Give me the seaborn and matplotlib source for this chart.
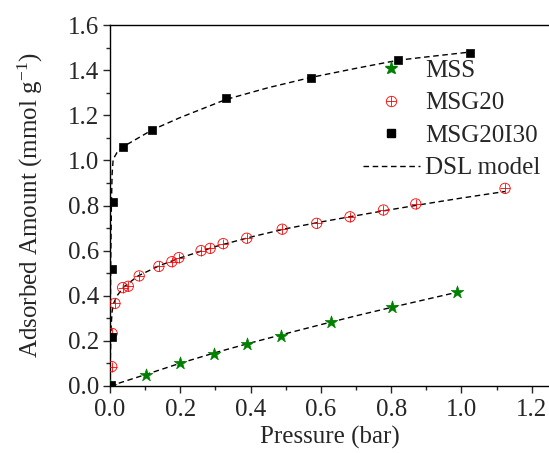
import numpy as np
import pandas as pd
import matplotlib
matplotlib.use("Agg")
import matplotlib.pyplot as plt
import seaborn as sns
from matplotlib.ticker import MultipleLocator, FormatStrFormatter
from matplotlib.legend_handler import HandlerTuple
from matplotlib.lines import Line2D

# ---- data ----
mss_p = [0.000, 0.102, 0.199, 0.297, 0.391, 0.487, 0.629, 0.802, 0.988]
mss_q = [0.000, 0.048, 0.100, 0.142, 0.186, 0.223, 0.282, 0.349, 0.418]

msg20_p = [0.005, 0.006, 0.014, 0.036, 0.052, 0.083, 0.139, 0.176, 0.196, 0.259,
           0.285, 0.322, 0.389, 0.490, 0.588, 0.683, 0.778, 0.870, 1.124]
msg20_q = [0.086, 0.233, 0.366, 0.436, 0.442, 0.488, 0.530, 0.551, 0.569, 0.600,
           0.610, 0.631, 0.655, 0.695, 0.721, 0.750, 0.780, 0.807, 0.876]

msg20i30_p = [0.004, 0.006, 0.007, 0.009, 0.038, 0.120, 0.329, 0.572, 0.819, 1.024]
msg20i30_q = [0.005, 0.219, 0.517, 0.816, 1.061, 1.133, 1.278, 1.367, 1.444, 1.475]

# DSL model curves
mss_fit_p = [0.0, 0.1, 0.2, 0.3, 0.4, 0.5, 0.6, 0.7, 0.8, 0.9, 1.0]
mss_fit_q = [0.0, 0.050, 0.101, 0.148, 0.191, 0.232, 0.272, 0.311, 0.348, 0.384, 0.420]

msg20_fit_p = [0.0, 0.001, 0.003, 0.006, 0.010, 0.020, 0.040, 0.080, 0.140, 0.200, 0.300,
               0.400, 0.500, 0.600, 0.700, 0.800, 0.900, 1.000, 1.124]
msg20_fit_q = [0.0, 0.120, 0.260, 0.330, 0.365, 0.400, 0.440, 0.488, 0.533, 0.568, 0.618,
               0.660, 0.697, 0.727, 0.755, 0.782, 0.808, 0.833, 0.862]

msg20i30_fit_p = [0.0, 0.001, 0.002, 0.004, 0.006, 0.009, 0.020, 0.038, 0.120, 0.200,
                  0.330, 0.450, 0.570, 0.700, 0.820, 0.920, 1.024]
msg20i30_fit_q = [0.0, 0.300, 0.550, 0.800, 0.940, 1.005, 1.035, 1.061, 1.135, 1.190,
                  1.270, 1.322, 1.367, 1.408, 1.444, 1.462, 1.480]

labels = ["MSS", "MSG20", "MSG20I30", "DSL model"]

# ---- style ----
sns.set_style("ticks")
plt.rcParams["font.family"] = ["Liberation Serif", "DejaVu Serif"]
plt.rcParams["mathtext.fontset"] = "custom"
plt.rcParams["mathtext.rm"] = "Liberation Serif"
plt.rcParams["mathtext.it"] = "Liberation Serif:italic"

FS = 18
DASH = (0, (4, 2.6))

fig = plt.figure(figsize=(5.49, 4.53), dpi=100)
ax = fig.add_axes([110/549, 67/453, 439.3/549, 361/453])

# model curves
for p, q in [(mss_fit_p, mss_fit_q), (msg20_fit_p, msg20_fit_q), (msg20i30_fit_p, msg20i30_fit_q)]:
    sns.lineplot(x=p, y=q, ax=ax, color="black", linestyle=DASH, linewidth=1.0,
                 sort=False, estimator=None, legend=False, zorder=2)

# data points
sns.scatterplot(x=mss_p, y=mss_q, ax=ax, marker="*", s=90, color="green",
                edgecolor="green", linewidth=0.5, legend=False, zorder=3)
sns.scatterplot(x=msg20_p, y=msg20_q, ax=ax, marker="o", s=55, facecolor="none",
                edgecolor="red", linewidth=0.6, legend=False, zorder=3)
sns.scatterplot(x=msg20_p, y=msg20_q, ax=ax, marker="+", s=55, color="red",
                linewidth=0.6, legend=False, zorder=3)
sns.scatterplot(x=msg20i30_p, y=msg20i30_q, ax=ax, marker="s", s=40, color="black",
                edgecolor="black", linewidth=0.5, legend=False, zorder=4)

ax.set_xlim(0, 1.25)
ax.set_ylim(0, 1.6)
ax.xaxis.set_major_locator(MultipleLocator(0.2))
ax.xaxis.set_minor_locator(MultipleLocator(0.1))
ax.yaxis.set_major_locator(MultipleLocator(0.2))
ax.yaxis.set_minor_locator(MultipleLocator(0.1))
ax.xaxis.set_major_formatter(FormatStrFormatter("%.1f"))
ax.yaxis.set_major_formatter(FormatStrFormatter("%.1f"))
ax.tick_params(axis="both", which="major", direction="out", length=5, width=1,
               labelsize=FS)
ax.tick_params(axis="x", which="major", pad=4)
ax.tick_params(axis="y", which="major", pad=3)
ax.tick_params(axis="both", which="minor", direction="out", length=3, width=1)
ax.tick_params(top=False, right=False, which="both")
for s in ["left", "bottom", "top"]:
    ax.spines[s].set_linewidth(1.0)
    ax.spines[s].set_color("black")
ax.spines["right"].set_visible(False)
ax.spines["top"].set_visible(True)

ax.set_xlabel("Pressure (bar)", fontsize=FS, labelpad=4)
ax.set_ylabel(r"Adsorbed Amount (mmol g$^{-1}$)", fontsize=FS, labelpad=16)

# legend
h_mss = Line2D([], [], marker="*", linestyle="none", color="green", markersize=9.5)
h_o = Line2D([], [], marker="o", linestyle="none", markerfacecolor="none",
             markeredgecolor="red", markersize=7.5, markeredgewidth=0.6)
h_p = Line2D([], [], marker="+", linestyle="none", color="red", markersize=7.5,
             markeredgewidth=0.6)
h_sq = Line2D([], [], marker="s", linestyle="none", color="black", markersize=6)
h_dsl = Line2D([], [], color="black", linestyle=DASH, linewidth=1.0)
ax.legend([h_mss, (h_o, h_p), h_sq, h_dsl], labels,
          handler_map={tuple: HandlerTuple(ndivide=1, pad=0)},
          loc="upper left", bbox_to_anchor=(0.575, 0.905), frameon=False,
          fontsize=FS, labelspacing=0.40, handlelength=2.3, handletextpad=0.2,
          borderaxespad=0, borderpad=0)

fig.savefig("out.png", dpi=100)
